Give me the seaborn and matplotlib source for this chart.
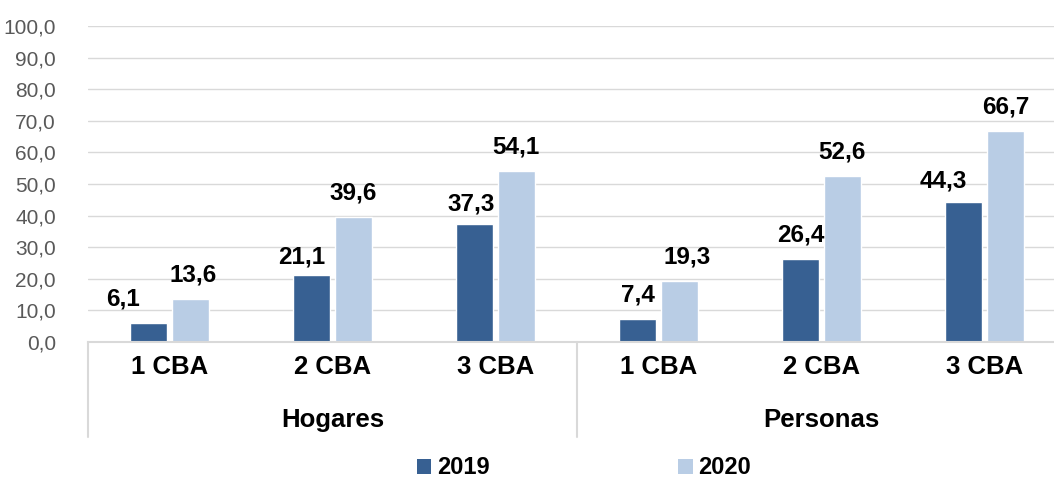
import seaborn as sns
import matplotlib.pyplot as plt
import pandas as pd
from matplotlib.patches import Patch
from matplotlib import transforms

# datos
grupos = ["Hogares", "Personas"]
canastas = ["1 CBA", "2 CBA", "3 CBA"]
anios = ["2019", "2020"]
hogares_2019 = [6.1, 21.1, 37.3]
hogares_2020 = [13.6, 39.6, 54.1]
personas_2019 = [7.4, 26.4, 44.3]
personas_2020 = [19.3, 52.6, 66.7]

colores = {"2019": "#376092", "2020": "#B9CDE5"}

filas = []
for g, v19, v20 in [("Hogares", hogares_2019, hogares_2020),
                    ("Personas", personas_2019, personas_2020)]:
    for c, a, b in zip(canastas, v19, v20):
        filas.append({"cat": g + " " + c, "anio": "2019", "valor": a})
        filas.append({"cat": g + " " + c, "anio": "2020", "valor": b})
df = pd.DataFrame(filas)
orden = [g + " " + c for g in grupos for c in canastas]

sns.set_style("white")
plt.rcParams['font.family'] = ['Liberation Sans', 'DejaVu Sans']
plt.rcParams['text.color'] = 'black'
plt.rcParams['xtick.color'] = 'black'

fig = plt.figure(figsize=(10.54, 4.79), dpi=100)
ax = fig.add_axes([88 / 1054, 1 - 342 / 479, 978 / 1054, 316 / 479])

sns.barplot(data=df, x="cat", y="valor", hue="anio", order=orden,
            hue_order=anios, palette=colores, width=0.512, gap=0.12,
            saturation=1, ax=ax, legend=False)

ax.set_ylim(0, 100)
ax.set_xlim(-0.5, 5.5)
ax.set_yticks(range(0, 101, 10))
ax.set_yticklabels([f"{v:.1f}".replace(".", ",") for v in range(0, 101, 10)],
                   fontsize=15, color="#595959")
ax.tick_params(axis="y", length=0, pad=23)
ax.grid(axis="y", color="#D9D9D9", lw=1.0)
ax.set_axisbelow(True)
for s in ["top", "right", "left"]:
    ax.spines[s].set_visible(False)
ax.spines["bottom"].set_color("#D9D9D9")
ax.spines["bottom"].set_linewidth(1.5)
ax.set_xlabel("")
ax.set_ylabel("")

# etiquetas de categorías
ax.set_xticks(range(6))
ax.set_xticklabels(canastas * 2, fontsize=18.5, fontweight="bold", color="black")
ax.tick_params(axis="x", length=0, pad=9)

trans = transforms.blended_transform_factory(ax.transData, ax.transAxes)
for i, g in enumerate(grupos):
    ax.text(1 + 3 * i, -0.247, g, transform=trans, ha="center", va="center",
            fontsize=18.5, fontweight="bold", color="black")
for x in [-0.5, 2.5, 5.5]:
    ax.plot([x, x], [0, -0.30], transform=trans, color="#D9D9D9", lw=1.5,
            clip_on=False)

# etiquetas de valores (algunas desplazadas como en el original)
desplaz = {0: (-26, 0), 1: (3, 0), 2: (-10, -6), 4: (-3, -4), 7: (8, 0),
           10: (-20, -3)}
barras = sorted(ax.patches, key=lambda p: p.get_x())
for k, p in enumerate(barras):
    v = p.get_height()
    dx, dy = desplaz.get(k, (0, 0))
    ax.annotate(f"{v:.1f}".replace(".", ","),
                (p.get_x() + p.get_width() / 2, v),
                xytext=(dx * 0.72, 9 + dy * 0.72), textcoords="offset points",
                ha="center", va="bottom", fontsize=17.5, fontweight="bold",
                color="black")

handles = [Patch(facecolor=colores[a], edgecolor="none") for a in anios]
fig.legend(handles, anios, loc="center", bbox_to_anchor=(584 / 1054, 1 - 468 / 479),
           ncol=2, frameon=False, prop={"size": 17, "weight": "bold"},
           labelcolor="black", borderpad=0.1,
           handlelength=0.6, handleheight=0.6, handletextpad=0.25,
           columnspacing=8.0)

fig.savefig("out.png", dpi=100)
